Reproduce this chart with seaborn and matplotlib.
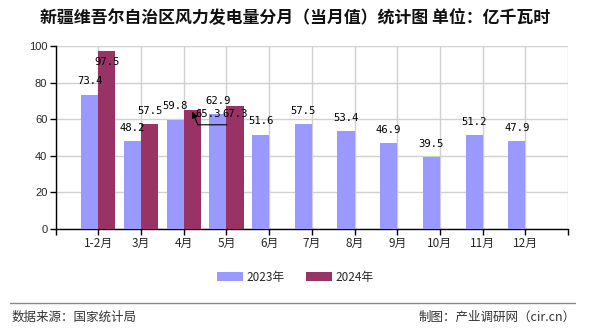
import matplotlib
matplotlib.use("Agg")
import matplotlib.pyplot as plt
from matplotlib.lines import Line2D
from matplotlib.patches import Patch
from matplotlib.text import OffsetFrom
import seaborn as sns
import pandas as pd

months = ["1-2月", "3月", "4月", "5月", "6月", "7月", "8月", "9月", "10月", "11月", "12月"]
v2023 = [73.4, 48.2, 59.8, 62.9, 51.6, 57.5, 53.4, 46.9, 39.5, 51.2, 47.9]
v2024 = [97.5, 57.5, 65.3, 67.3]
series = ["2023年", "2024年"]
colors = ["#9999FF", "#993366"]
yticks = [0, 20, 40, 60, 80, 100]

rows = []
for m, v in zip(months, v2023):
    rows.append({"月份": m, "年份": series[0], "值": v})
for m, v in zip(months, v2024):
    rows.append({"月份": m, "年份": series[1], "值": v})
df = pd.DataFrame(rows)

sns.set_theme(style="white")
plt.rcParams["font.family"] = ["Noto Sans CJK SC", "DejaVu Sans"]

fig = plt.figure(figsize=(5.9, 3.3), dpi=100)
ax = fig.add_axes([0.0944, 0.306, 0.9627 - 0.0944, 0.8606 - 0.306])

sns.barplot(data=df, x="月份", y="值", hue="年份", order=months, hue_order=series,
            palette=colors, width=0.8, gap=0, saturation=1, ax=ax, legend=False,
            edgecolor="none", linewidth=0, zorder=3)

ax.set_xlim(-1, len(months))
ax.set_ylim(0, 100)
ax.set_xticks(range(-1, len(months) + 1))
ax.set_xticklabels([""] + months + [""], fontsize=8.5)
ax.set_yticks(yticks)
ax.set_yticklabels([str(t) for t in yticks], fontsize=8, family=["Liberation Sans", "DejaVu Sans"])
ax.set_xlabel("")
ax.set_ylabel("")
ax.grid(True, color="#d0d0d0", linewidth=1, zorder=0)
ax.set_axisbelow(True)
for s in ["top", "right"]:
    ax.spines[s].set_visible(False)
for s in ["left", "bottom"]:
    ax.spines[s].set_color("black")
    ax.spines[s].set_linewidth(1)
ax.tick_params(axis="both", which="both", direction="out", length=4, width=1,
               color="black", pad=2, bottom=True, left=True)

lab_font = dict(fontsize=7.6, family=["DejaVu Sans Mono", "DejaVu Sans"], color="black",
                ha="center", va="center", zorder=5)
off = 0.2
for i, v in enumerate(v2023):
    ax.annotate(f"{v}", (i - off, v), xytext=(0, 9.5), textcoords="offset points", **lab_font)
for i, v in enumerate(v2024):
    if i == 0:
        ax.annotate(f"{v}", (i + off, min(v, 93)), xytext=(0, -2), textcoords="offset points", **lab_font)
    elif i == 2:
        ax.annotate(f"{v}", (i + off, v), xytext=(11.2, -3), textcoords="offset points", **lab_font)
        anchor = OffsetFrom(ax.transData, (i + off, v), unit="points")
        ax.annotate("", xy=(0, -1.5), xycoords=anchor, xytext=(4, -11), textcoords=anchor,
                    arrowprops=dict(arrowstyle="-|>", color="black", lw=0.8,
                                    shrinkA=0, shrinkB=0, mutation_scale=9), zorder=5)
        ax.annotate("", xy=(4, -11), xycoords=anchor, xytext=(25, -11), textcoords=anchor,
                    arrowprops=dict(arrowstyle="-", color="black", lw=0.8,
                                    shrinkA=0, shrinkB=0), zorder=5)
    elif i == 3:
        ax.annotate(f"{v}", (i + off, v), xytext=(0, -6), textcoords="offset points", **lab_font)
    else:
        ax.annotate(f"{v}", (i + off, v), xytext=(0, 9.5), textcoords="offset points", **lab_font)

fig.text(0.5, 1 - 18 / 330, "新疆维吾尔自治区风力发电量分月（当月值）统计图 单位：亿千瓦时",
         ha="center", va="center", fontsize=12.2, fontweight="bold", color="#111111")

handles = [Patch(facecolor=c, edgecolor="none") for c in colors]
fig.legend(handles, series, loc="center", bbox_to_anchor=(0.5, 1 - 277 / 330), ncol=2,
           frameon=False, fontsize=8.5, handlelength=2.2, handleheight=0.9,
           handletextpad=0.3, columnspacing=1.8)

fig.add_artist(Line2D([10 / 590, 575 / 590], [1 - 303 / 330] * 2, color="#888888", lw=1))
fig.text(12 / 590, 1 - 317 / 330, "数据来源：国家统计局", ha="left", va="center", fontsize=9, color="#333333")
fig.text(576 / 590, 1 - 317 / 330, "制图：产业调研网（cir.cn）", ha="right", va="center", fontsize=9, color="#333333")

fig.savefig("out.png", dpi=100)
